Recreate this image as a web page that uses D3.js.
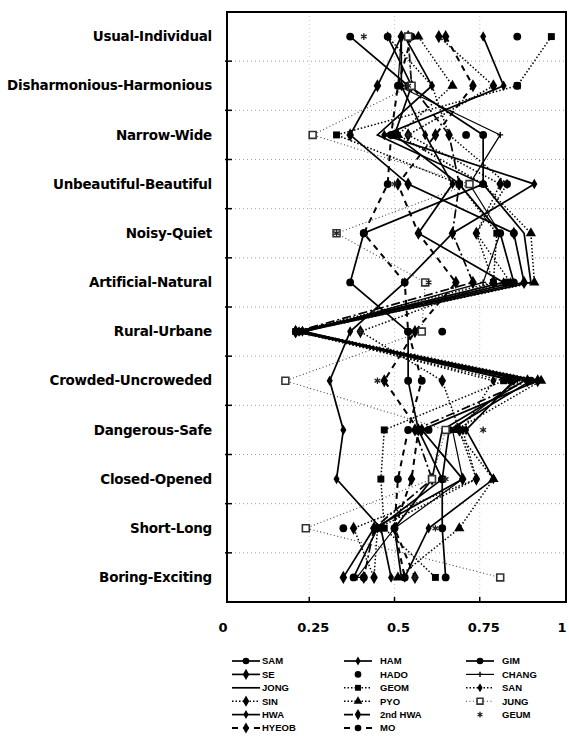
<!DOCTYPE html>
<html>
<head>
<meta charset="utf-8">
<script src="https://cdn.jsdelivr.net/npm/d3@7"></script>
<style>
  body { margin: 0; background: #fff; }
  svg { display: block; }
  text { font-family: "Liberation Sans", Arial, sans-serif; font-weight: bold; fill: #000; }
</style>
</head>
<body>
<div id="chart"></div>
<script>
// semantic differential pairs, top to bottom
var categories = ["Usual-Individual", "Disharmonious-Harmonious", "Narrow-Wide",
  "Unbeautiful-Beautiful", "Noisy-Quiet", "Artificial-Natural", "Rural-Urbane",
  "Crowded-Uncroweded", "Dangerous-Safe", "Closed-Opened", "Short-Long", "Boring-Exciting"];

var xTicks = [0, 0.25, 0.5, 0.75, 1];
var xTickLabels = ["0", "0.25", "0.5", "0.75", "1"];

var SAM    = [0.48, 0.55, 0.50, 0.69, 0.81, 0.85, 0.22, 0.90, 0.66, 0.64, 0.45, 0.38];
var SE     = [0.52, 0.45, 0.37, 0.54, 0.85, 0.88, 0.21, 0.92, 0.58, 0.70, 0.44, 0.35];
var JONG   = [0.53, 0.61, 0.45, 0.76, 0.88, 0.90, 0.23, 0.88, 0.64, 0.61, 0.50, 0.52];
var SIN    = [0.63, 0.79, 0.54, 0.81, 0.74, 0.79, 0.40, 0.64, 0.69, 0.74, 0.38, 0.44];
var HWA    = [0.52, 0.52, 0.59, 0.67, 0.57, 0.82, 0.22, 0.85, 0.71, 0.79, 0.60, 0.53];
var HYEOB  = [0.65, 0.73, 0.62, 0.51, 0.57, 0.68, 0.56, 0.47, 0.57, 0.55, 0.50, 0.56];
var HAM    = [0.76, 0.82, 0.47, 0.91, 0.67, 0.53, 0.37, 0.31, 0.35, 0.33, 0.46, 0.49];
var HADO   = [0.86, 0.86, 0.71, 0.83, 0.85, 0.83, 0.64, 0.84, 0.60, 0.64, 0.35, 0.41];
var GEOM   = [0.96, 0.86, 0.33, 0.69, 0.80, 0.79, 0.21, 0.82, 0.47, 0.46, 0.47, 0.62];
var PYO    = [0.57, 0.67, 0.51, 0.76, 0.90, 0.91, 0.23, 0.93, 0.68, 0.79, 0.69, 0.51];
var HWA2   = [0.54, 0.55, 0.66, 0.69, 0.67, 0.73, 0.21, 0.89, 0.56, 0.61, 0.44, 0.41];
var MO     = [0.55, 0.51, 0.49, 0.48, 0.41, 0.53, 0.54, 0.58, 0.54, 0.51, 0.50, 0.53];
var GIM    = [0.37, 0.54, 0.76, 0.76, 0.41, 0.37, 0.54, 0.54, 0.57, 0.64, 0.64, 0.65];
var CHANG  = [0.52, 0.51, 0.81, 0.72, 0.81, 0.76, 0.24, 0.86, 0.67, 0.70, 0.50, 0.39];
var SAN    = [0.48, 0.61, 0.66, 0.83, 0.74, 0.84, 0.23, 0.79, 0.70, 0.74, 0.45, 0.44];
var JUNG   = [0.54, 0.55, 0.26, 0.72, 0.33, 0.59, 0.58, 0.18, 0.65, 0.61, 0.24, 0.81];
var GEUM   = [0.41, 0.54, 0.54, 0.50, 0.33, 0.60, 0.40, 0.45, 0.76, 0.65, 0.62, 0.56];

// line: solid / dotted / dashed / dashdot / none ; mark: symbol kind
var series = [
  {name: "SAM", values: SAM, line: "solid", mark: "circle"},
  {name: "SE", values: SE, line: "solid", mark: "diamond"},
  {name: "JONG", values: JONG, line: "solid", mark: "none"},
  {name: "SIN", values: SIN, line: "dotted", mark: "diamond"},
  {name: "HWA", values: HWA, line: "solid", mark: "smalldiamond"},
  {name: "HYEOB", values: HYEOB, line: "dashed", mark: "diamond"},
  {name: "HAM", values: HAM, line: "solid", mark: "smalldiamond"},
  {name: "HADO", values: HADO, line: "none", mark: "circle"},
  {name: "GEOM", values: GEOM, line: "dotted", mark: "square"},
  {name: "PYO", values: PYO, line: "dotted", mark: "triangle"},
  {name: "2nd  HWA", values: HWA2, line: "dashdot", mark: "diamond"},
  {name: "MO", values: MO, line: "dashed", mark: "circle"},
  {name: "GIM", values: GIM, line: "solid", mark: "circle"},
  {name: "CHANG", values: CHANG, line: "thin", mark: "plus"},
  {name: "SAN", values: SAN, line: "dotted", mark: "smalldiamond"},
  {name: "JUNG", values: JUNG, line: "lightdot", mark: "hollow"},
  {name: "GEUM", values: GEUM, line: "none", mark: "star"}
];

var W = 569, H = 738;
var box = {left: 227, right: 566, top: 12, bottom: 602};

var svg = d3.select("#chart").append("svg")
    .attr("width", W).attr("height", H);

var x = d3.scaleLinear().domain([0, 1]).range([224, 565]);
var y = d3.scaleBand().domain(categories).range([box.top, box.bottom]);
var yc = function(c) { return y(c) + y.bandwidth() / 2; };

// grid
var grid = svg.append("g").attr("stroke", "#888").attr("stroke-width", 0.8)
    .attr("stroke-dasharray", "1,3");
grid.selectAll("line.h")
    .data(categories.slice(1)).enter()
    .append("line")
    .attr("x1", box.left).attr("x2", box.right)
    .attr("y1", function(d) { return y(d); })
    .attr("y2", function(d) { return y(d); });
grid.selectAll("line.v")
    .data([0.25, 0.5, 0.75]).enter()
    .append("line")
    .attr("x1", function(d) { return x(d); }).attr("x2", function(d) { return x(d); })
    .attr("y1", box.top).attr("y2", box.bottom)
    .attr("stroke", "#bbb");

// tick marks
svg.append("g").selectAll("line")
    .data(categories.slice(1)).enter()
    .append("line")
    .attr("x1", box.left - 2).attr("x2", box.left + 5)
    .attr("y1", function(d) { return y(d); })
    .attr("y2", function(d) { return y(d); })
    .attr("stroke", "#000").attr("stroke-width", 1.5);
svg.append("g").selectAll("line")
    .data([0.25, 0.5, 0.75]).enter()
    .append("line")
    .attr("x1", function(d) { return x(d); }).attr("x2", function(d) { return x(d); })
    .attr("y1", box.bottom - 5).attr("y2", box.bottom + 1)
    .attr("stroke", "#000").attr("stroke-width", 1.5);

// frame
svg.append("rect")
    .attr("x", box.left).attr("y", box.top)
    .attr("width", box.right - box.left).attr("height", box.bottom - box.top)
    .attr("fill", "none").attr("stroke", "#000").attr("stroke-width", 2);

// category labels
svg.append("g").selectAll("text")
    .data(categories).enter()
    .append("text")
    .attr("x", 212)
    .attr("y", function(d) { return yc(d); })
    .attr("dy", "0.35em")
    .attr("text-anchor", "end")
    .style("font-family", "'DejaVu Sans', sans-serif")
    .style("font-size", "13.5px")
    .style("letter-spacing", "-0.25px")
    .text(function(d) { return d; });

// x labels
svg.append("g").selectAll("text")
    .data(xTicks).enter()
    .append("text")
    .attr("x", function(d) { return d === 0 ? x(d) - 1 : (d === 1 ? 562 : x(d) + 4); })
    .attr("y", 632)
    .attr("text-anchor", "middle")
    .style("font-family", "'DejaVu Sans', sans-serif")
    .style("font-size", "13px")
    .text(function(d, i) { return xTickLabels[i]; });

function lineStyle(sel, kind) {
  var w = 1.7, dash = null, col = "#000";
  if (kind === "dotted") { w = 1.5; dash = "1.5,2"; }
  if (kind === "lightdot") { w = 1.1; dash = "1,2.5"; col = "#444"; }
  if (kind === "dashed") { w = 2; dash = "6,5"; }
  if (kind === "dashdot") { w = 1.7; dash = "9,3,2,3"; }
  if (kind === "thin") { w = 1.2; }
  if (kind === "none") { w = 0; }
  sel.attr("stroke", col).attr("stroke-width", w).attr("fill", "none");
  if (dash) sel.attr("stroke-dasharray", dash);
  return sel;
}

function drawMark(g, kind, cx, cy, scale) {
  var s = scale || 1;
  if (kind === "none") return;
  if (kind === "plus") {
    g.append("path").attr("d", "M" + (cx - 3 * s) + "," + cy + "H" + (cx + 3 * s) + "M" + cx + "," + (cy - 3 * s) + "V" + (cy + 3 * s))
        .attr("stroke", "#000").attr("stroke-width", 1.4);
    return;
  }
  if (kind === "star") {
    g.append("path").attr("d", d3.symbol().type(d3.symbolAsterisk).size(30 * s * s)())
        .attr("transform", "translate(" + cx + "," + cy + ")")
        .attr("stroke", "#222").attr("stroke-width", 1.3).attr("fill", "none");
    return;
  }
  var type = d3.symbolCircle, size = 48;
  if (kind === "diamond") { type = d3.symbolDiamond; size = 50; }
  if (kind === "smalldiamond") { type = d3.symbolDiamond; size = 32; }
  if (kind === "square" || kind === "hollow") { type = d3.symbolSquare; size = 48; }
  if (kind === "triangle") { type = d3.symbolTriangle; size = 46; }
  var p = g.append("path").attr("d", d3.symbol().type(type).size(size * s * s)())
      .attr("transform", "translate(" + cx + "," + cy + ")");
  if (kind === "hollow") p.attr("fill", "#fff").attr("stroke", "#333").attr("stroke-width", 1.6);
  else p.attr("fill", "#000");
}

var line = d3.line()
    .x(function(d) { return x(d); })
    .y(function(d, i) { return yc(categories[i]); });

var plot = svg.append("g");
series.forEach(function(s) {
  if (s.line !== "none") {
    lineStyle(plot.append("path").attr("d", line(s.values)), s.line);
  }
});
series.forEach(function(s) {
  var g = plot.append("g");
  s.values.forEach(function(v, i) { drawMark(g, s.mark, x(v), yc(categories[i])); });
});

// legend
var cols = [{lx: 232, tx: 262}, {lx: 344, tx: 380}, {lx: 466, tx: 502}];
var legend = svg.append("g");
series.forEach(function(s, i) {
  var c = cols[Math.floor(i / 6)], r = i % 6;
  var ly = 661 + r * 13.4;
  var len = 28;
  if (s.line !== "none") {
    lineStyle(legend.append("line")
      .attr("x1", c.lx).attr("x2", c.lx + len)
      .attr("y1", ly).attr("y2", ly), s.line);
  }
  drawMark(legend, s.mark, c.lx + len / 2, ly, 0.85);
  legend.append("text")
    .attr("x", c.tx).attr("y", ly).attr("dy", "0.35em")
    .style("font-size", "9.5px")
    .text(s.name);
});
</script>
</body>
</html>
